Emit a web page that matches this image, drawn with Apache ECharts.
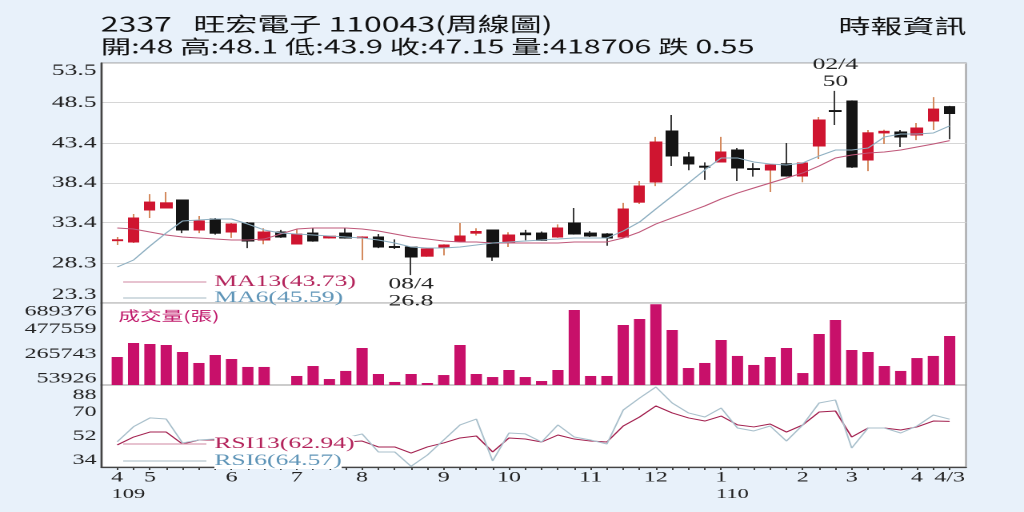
<!DOCTYPE html>
<html><head><meta charset="utf-8">
<script src="https://cdn.jsdelivr.net/npm/echarts@6/dist/echarts.min.js"></script>
<style>
html,body{margin:0;padding:0;background:#e8f1fa;overflow:hidden;width:1024px;height:512px;}
#wrap{width:1024px;height:512px;overflow:hidden;}
#chart{width:640px;height:512px;transform:scaleX(1.6);transform-origin:0 0;}
</style></head><body>
<div id="wrap"><div id="chart"></div></div>
<script>
// ---- data (weekly candles, index 0..51) ----
const opens  = [31.15,30.98,35.0,35.25,36.26,32.49,33.87,32.23,33.37,31.23,32.23,30.72,32.1,31.5,32.1,31.5,31.6,30.4,30.35,29.2,30.35,31.1,32.1,32.49,30.85,32.1,32.1,31.6,33.37,32.1,31.98,31.6,36.0,38.53,44.94,41.67,40.5,41.04,42.55,40.2,40.04,40.8,39.28,43.05,47.5,48.72,41.29,44.7,44.82,44.44,46.2,48.0];
const closes = [31.25,34.0,36.0,35.9,32.49,33.62,32.1,33.24,31.1,32.23,31.6,31.98,31.1,31.7,31.48,31.6,30.35,30.3,29.09,30.1,30.6,31.73,32.3,29.09,31.86,31.9,31.2,32.74,31.98,31.73,31.48,35.13,38.02,43.56,41.8,40.8,40.4,42.3,40.29,40.1,40.67,39.28,40.92,46.33,47.4,40.41,44.7,44.9,44.19,45.32,47.7,47.15];
const lows   = [30.6,30.85,34.0,35.2,32.1,32.1,31.9,31.5,30.2,30.7,31.5,30.7,31.0,31.4,31.4,28.7,30.2,30.1,26.8,29.1,29.3,31.1,31.8,28.6,30.35,31.2,31.1,31.5,31.9,31.6,30.5,31.5,35.75,38.0,40.54,40.0,38.8,41.0,38.65,39.2,37.27,39.2,38.5,41.42,45.7,40.3,39.9,43.3,42.93,43.8,45.07,43.9];
const highs  = [31.6,34.5,37.0,37.27,36.3,34.25,34.0,33.37,33.5,32.7,32.5,32.6,32.7,31.8,32.7,31.7,31.98,31.3,30.4,30.2,30.7,33.37,32.7,32.5,32.2,32.5,32.3,33.2,35.25,32.35,32.1,35.9,38.65,44.2,46.96,42.3,41.0,44.2,42.8,40.9,40.7,43.43,41.0,46.7,50.0,48.8,45.07,45.1,45.07,45.95,49.2,48.1];
const volumes = [239000,358500,350000,341000,282000,188000,256000,222000,154000,154000,0,77000,162000,51000,120000,316000,94000,26000,94000,17000,85000,341000,94000,68000,128000,68000,34000,128000,640000,77000,77000,512000,563000,689376,470000,145000,188000,384000,248000,171000,239000,316000,102000,435000,555000,299000,282000,162000,120000,230000,248000,418706];
const ma6  = [27.83,28.71,30.47,32.11,33.62,33.74,33.87,33.87,33.24,32.49,32.11,31.98,31.86,31.73,31.60,31.48,31.23,30.85,30.35,30.22,30.22,30.35,30.60,30.85,30.98,31.10,31.23,31.35,31.48,31.48,31.48,32.36,33.49,35.13,36.76,38.40,40.04,41.55,41.55,41.04,40.79,40.66,40.92,41.80,42.55,42.55,42.80,44.19,44.57,44.57,44.69,45.59];
const ma13 = [32.74,32.61,32.23,31.86,31.60,31.48,31.35,31.23,31.23,31.35,31.98,32.61,32.74,32.74,32.74,32.61,32.36,31.98,31.60,31.35,31.10,30.98,30.98,30.85,30.85,30.85,30.85,30.85,30.98,30.98,30.98,31.48,32.23,33.24,34.00,34.75,35.51,36.39,37.14,37.77,38.40,39.03,39.66,40.54,41.55,41.92,42.17,42.30,42.55,42.93,43.31,43.73];
const rsi6  = [47.8,59.0,65.5,64.7,46.9,49.1,49.8,48.3,46.9,46.1,44.6,44.6,46.1,49.1,50.6,53.6,40.2,40.2,29.5,37.9,49.1,60.3,64.7,33.5,54.3,53.6,47.6,60.3,51.3,49.1,46.1,71.4,80.3,88.5,76.6,69.2,66.2,72.9,58.0,55.8,59.5,48.3,60.3,76.6,78.9,43.1,58.0,58.0,54.3,59.5,67.7,64.57];
const rsi13 = [45.4,51.3,55.0,55.0,46.1,49.1,49.1,48.3,47.6,46.9,46.1,46.1,46.9,47.6,47.6,48.3,43.9,43.9,39.4,43.9,46.9,50.6,52.1,40.2,50.6,49.8,47.6,52.8,49.8,48.3,47.6,59.5,66.2,74.4,69.2,65.5,63.2,66.9,60.3,58.8,61.0,55.0,60.3,69.9,70.7,51.3,58.0,58.0,56.5,58.8,63.2,62.94];

// ---- tick labels ----
const priceTicks = [23.3, 28.3, 33.4, 38.4, 43.4, 48.5, 53.5];
const volTicks = [53926, 265743, 477559, 689376];
const rsiTicks = [34, 52, 70, 88];
const monthIdx  = [0, 2, 7, 11, 15, 20, 24, 29, 33, 37, 42, 45, 49, 51];
const monthText = ['4','5','6','7','8','9','10','11','12','1','2','3','4','4/3'];
const yearIdx = [0, 37];
const yearText = ['109', '110'];
const highDate = '02/4';
const lowDate = '08/4';
const titleLine1 = '2337   旺宏電子 110043(周線圖)';
const titleLine2 = '開:48 高:48.1 低:43.9 收:47.15 量:418706 跌 0.55';
const sourceText = '時報資訊';
const volTitle = '成交量(張)';

// ---- styling ----
const SERIF = '"Liberation Serif","DejaVu Serif",serif';
const CJK = '"Noto Sans CJK TC","Noto Sans",sans-serif';
const UP = '#cf1530', DOWN = '#141414', UP_WICK = '#d48a5e', DOWN_WICK = '#3a3a3a';
const GL = 63.4, GR = 36.25;
const XMIN = -0.97, XMAX = 52.0;

const idx = opens.map((_, i) => i);
const ma13Name = 'MA13(' + ma13[ma13.length-1].toFixed(2) + ')';
const ma6Name = 'MA6(' + ma6[ma6.length-1].toFixed(2) + ')';
const rsi13Name = 'RSI13(' + rsi13[rsi13.length-1].toFixed(2) + ')';
const rsi6Name = 'RSI6(' + rsi6[rsi6.length-1].toFixed(2) + ')';

function nearest(arr, v) {
  let b = arr[0];
  arr.forEach(a => { if (Math.abs(a - v) < Math.abs(b - v)) b = a; });
  return b;
}

const gridBase = {left: GL, right: GR, show: true, backgroundColor: '#fff', borderColor: '#9a9a9a', borderWidth: 1};
const axisLineDark = {show: true, onZero: false, lineStyle: {color: '#444', width: 1.3}};
const legendBase = {left: 72, orient: 'vertical', itemWidth: 52, itemHeight: 16, selectedMode: false,
  icon: 'path://M0,7.4L52,7.4L52,8.6L0,8.6Z'};

const chart = echarts.init(document.getElementById('chart'), null, {renderer: 'canvas', devicePixelRatio: 2});
chart.setOption({
  animation: false,
  backgroundColor: '#e8f1fa',
  title: [
    {text: titleLine1, left: 63, top: 14, padding: 0, textStyle: {fontFamily: CJK, fontSize: 20, fontWeight: 'normal', color: '#111'}},
    {text: titleLine2, left: 63, top: 37, padding: 0, textStyle: {fontFamily: CJK, fontSize: 19, fontWeight: 'normal', color: '#111'}},
    {text: sourceText, left: 524, top: 16, padding: 0, textStyle: {fontFamily: CJK, fontSize: 20, fontWeight: 'normal', color: '#111'}},
    {text: volTitle, left: 74, top: 309, padding: 0, textStyle: {fontFamily: CJK, fontSize: 13.5, fontWeight: 'normal', color: '#c0186a'}}
  ],
  grid: [
    Object.assign({}, gridBase, {top: 63, height: 240}),
    Object.assign({}, gridBase, {top: 303, height: 82}),
    Object.assign({}, gridBase, {top: 385, height: 82})
  ],
  legend: [
    Object.assign({}, legendBase, {top: 269, itemGap: 0,
     textStyle: {fontFamily: SERIF, fontSize: 16},
     data: [{name: ma13Name, textStyle: {color: '#b4245c'}, itemStyle: {color: '#d9a0b4'}},
            {name: ma6Name, textStyle: {color: '#5f95b8'}, itemStyle: {color: '#b8c8d0'}}]}),
    Object.assign({}, legendBase, {top: 431, itemGap: 1,
     textStyle: {fontFamily: SERIF, fontSize: 16, backgroundColor: '#fff'},
     data: [{name: rsi13Name, textStyle: {color: '#b4245c'}, itemStyle: {color: '#d9a0b4'}},
            {name: rsi6Name, textStyle: {color: '#5f95b8'}, itemStyle: {color: '#b8c8d0'}}]})
  ],
  xAxis: [
    {type: 'value', gridIndex: 0, min: XMIN, max: XMAX, show: false},
    {type: 'value', gridIndex: 1, min: XMIN, max: XMAX, show: false},
    {type: 'value', gridIndex: 2, min: XMIN, max: XMAX, position: 'bottom',
     axisLine: axisLineDark,
     splitLine: {show: false},
     axisTick: {show: true, customValues: idx, length: 3, lineStyle: {color: '#444', width: 1}},
     axisLabel: {customValues: monthIdx, margin: 2, color: '#222', showMinLabel: true, showMaxLabel: true, hideOverlap: false,
       fontFamily: SERIF, fontSize: 15, lineHeight: 17,
       formatter: v => monthText[monthIdx.indexOf(nearest(monthIdx, v))]}},
    {type: 'value', gridIndex: 2, min: XMIN, max: XMAX, position: 'bottom', offset: 0,
     axisLine: {show: false, onZero: false}, axisTick: {show: false, customValues: yearIdx}, splitLine: {show: false},
     axisLabel: {customValues: yearIdx, margin: 19, color: '#222', showMinLabel: true, showMaxLabel: true,
       formatter: v => '{y|' + yearText[yearIdx.indexOf(nearest(yearIdx, v))] + '}',
       rich: {y: {fontFamily: SERIF, fontSize: 14, color: '#222', lineHeight: 17, padding: [0, 0, 0, 14]}}}}
  ],
  yAxis: [
    {type: 'value', gridIndex: 0, min: priceTicks[0], max: priceTicks[priceTicks.length-1],
     axisLine: axisLineDark,
     axisTick: {show: false, customValues: priceTicks},
     splitLine: {show: true, lineStyle: {color: '#d6d6d6', width: 1}},
     axisLabel: {customValues: priceTicks, margin: 3, fontFamily: SERIF, fontSize: 16, color: '#222',
       verticalAlignMinLabel: 'bottom', verticalAlignMaxLabel: 'top',
       formatter: v => nearest(priceTicks, v).toFixed(1)}},
    {type: 'value', gridIndex: 1, min: 0, max: 700000,
     axisLine: axisLineDark, axisTick: {show: false, customValues: volTicks}, splitLine: {show: false},
     axisLabel: {customValues: volTicks, margin: 3, fontFamily: SERIF, fontSize: 15, color: '#222',
       verticalAlignMaxLabel: 'top',
       formatter: v => String(nearest(volTicks, v))}},
    {type: 'value', gridIndex: 2, min: 29, max: 90,
     axisLine: axisLineDark, axisTick: {show: false, customValues: rsiTicks}, splitLine: {show: false},
     axisLabel: {customValues: rsiTicks, margin: 3, fontFamily: SERIF, fontSize: 15, color: '#222',
       verticalAlignMaxLabel: 'top',
       formatter: v => String(nearest(rsiTicks, v))}}
  ],
  series: [
    {type: 'candlestick', name: 'K', xAxisIndex: 0, yAxisIndex: 0, silent: true,
     dimensions: ['x', 'open', 'close', 'lowest', 'highest'],
     encode: {x: 'x', y: ['open', 'close', 'lowest', 'highest']},
     data: opens.map((o, i) => [i, o, closes[i], lows[i], highs[i]]),
     barWidth: 7,
     itemStyle: {color: UP, color0: DOWN, borderColor: UP_WICK, borderColor0: DOWN_WICK, borderWidth: 1},
     markPoint: {
       symbol: 'rect', symbolSize: 1, silent: true,
       itemStyle: {color: 'rgba(0,0,0,0)'},
       label: {fontFamily: SERIF, fontSize: 16, color: '#222', lineHeight: 17},
       data: [
         {type: 'max', valueDim: 'highest', label: {position: 'top', distance: 0, formatter: p => highDate + '\n' + p.value}},
         {type: 'min', valueDim: 'lowest', label: {position: 'bottom', distance: 0, formatter: p => lowDate + '\n' + p.value}}
       ]
     }},
    {type: 'candlestick', name: 'Kbody', xAxisIndex: 0, yAxisIndex: 0, silent: true,
     dimensions: ['x', 'open', 'close', 'lowest', 'highest'],
     encode: {x: 'x', y: ['open', 'close', 'lowest', 'highest']},
     data: opens.map((o, i) => [i, o, closes[i], Math.min(o, closes[i]), Math.max(o, closes[i])]),
     barWidth: 7,
     itemStyle: {color: UP, color0: DOWN, borderColor: UP, borderColor0: DOWN, borderWidth: 1}},
    {type: 'line', name: ma13Name, xAxisIndex: 0, yAxisIndex: 0, symbol: 'none', silent: true, z: 5,
     data: ma13.map((v, i) => [i, v]), lineStyle: {color: '#c0587a', width: 1}, itemStyle: {color: '#c0587a'}},
    {type: 'line', name: ma6Name, xAxisIndex: 0, yAxisIndex: 0, symbol: 'none', silent: true, z: 5,
     data: ma6.map((v, i) => [i, v]), lineStyle: {color: '#8fb0c2', width: 1}, itemStyle: {color: '#8fb0c2'}},
    {type: 'bar', name: volTitle, xAxisIndex: 1, yAxisIndex: 1, silent: true, barWidth: 7,
     data: volumes.map((v, i) => [i, v]), itemStyle: {color: '#c8106a'}},
    {type: 'line', name: rsi13Name, xAxisIndex: 2, yAxisIndex: 2, symbol: 'none', silent: true,
     data: rsi13.map((v, i) => [i, v]), lineStyle: {color: '#a3204f', width: 1}, itemStyle: {color: '#a3204f'}},
    {type: 'line', name: rsi6Name, xAxisIndex: 2, yAxisIndex: 2, symbol: 'none', silent: true,
     data: rsi6.map((v, i) => [i, v]), lineStyle: {color: '#a9c0cc', width: 1}, itemStyle: {color: '#a9c0cc'}}
  ]
});
</script>
</body></html>
